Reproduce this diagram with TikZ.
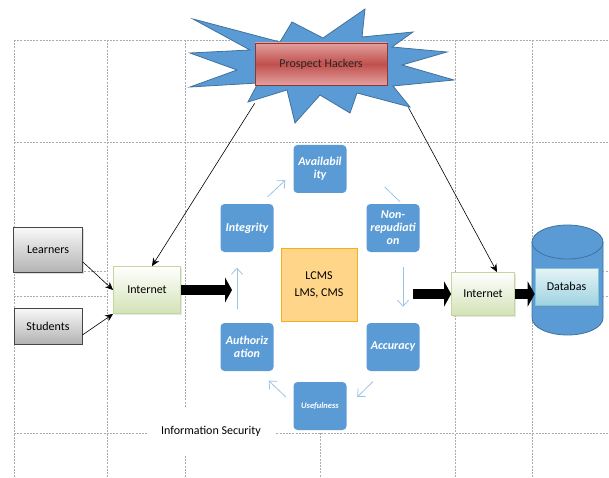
\documentclass[tikz,border=0pt]{standalone}
\usepackage{fontspec}
\setmainfont{Carlito}
\usetikzlibrary{arrows.meta,shadows}
\definecolor{starblue}{HTML}{5B9BD5}
\definecolor{starline}{HTML}{41719C}
\definecolor{hackred}{HTML}{C0504D}
\definecolor{hacklight}{HTML}{E3A09E}
\definecolor{hackline}{HTML}{8C3836}
\definecolor{netgreen}{HTML}{D3E2B6}
\definecolor{netline}{HTML}{C3D69B}
\definecolor{lcmsfill}{HTML}{FFD58A}
\definecolor{lcmsline}{HTML}{F2B01E}
\definecolor{cycblue}{HTML}{9DC3E6}
\definecolor{dbcyan}{HTML}{9ED3E0}
\definecolor{dbline}{HTML}{4BACC6}
\begin{document}
\begin{tikzpicture}[x=1pt, y=-1pt,
  grid/.style={gray!65, dash pattern=on 2pt off 1.2pt, line width=0.5pt},
  userbox/.style={draw=gray!55!black, line width=0.8pt, top color=gray!5, bottom color=gray!60,
    font=\fontsize{12}{14}\selectfont, drop shadow={opacity=0.25, shadow xshift=1pt, shadow yshift=-1pt}},
  netbox/.style={draw=netline, line width=0.8pt, top color=white, bottom color=netgreen,
    minimum height=45pt, font=\fontsize{12}{14}\selectfont,
    drop shadow={opacity=0.2, shadow xshift=1pt, shadow yshift=-1pt}},
  secbox/.style={fill=starblue, rounded corners=4pt, minimum width=53pt, minimum height=48pt,
    text=white, align=center, inner sep=1pt, font=\fontsize{12}{13}\selectfont\bfseries\itshape},
  cyc/.style={cycblue, line width=0.8pt, -{Straight Barb[length=6pt,width=11pt]}},
  feed/.style={black, line width=0.6pt, -{Stealth[length=8pt,width=7pt]}},
  blockarrow/.style={line width=10pt, -{Triangle[width=25pt,length=7pt]}}
  ]
  \useasboundingbox (0,0) rectangle (609,478);

  % grid
  \draw [grid] (14,40) -- (609,40);
  \draw [grid] (14,142) -- (609,142);
  \draw [grid] (14,271) -- (107,271);
  \draw [grid] (14,296) -- (107,296);
  \draw [grid] (532,271) -- (609,271);
  \draw [grid] (532,296) -- (609,296);
  \draw [grid] (14,433) -- (609,433);
  \draw [grid] (14,40) -- (14,478);
  \draw [grid] (107,40) -- (107,478);
  \draw [grid] (185,40) -- (185,478);
  \draw [grid] (320,433) -- (320,478);
  \draw [grid] (455,40) -- (455,478);
  \draw [grid] (532,40) -- (532,478);

  % information security label
  \node [fill=white, minimum width=128pt, minimum height=48pt, font=\fontsize{12}{14}\selectfont]
    (infosec) at (211,431) {Information Security};

  % hackers
  \draw [fill=starblue, draw=starline, line width=0.8pt]
    (193,19) -- (280,42) -- (292,22) -- (323,38) -- (365,9) -- (362,37) -- (413,32)
    -- (392,47) -- (447,52) -- (402,65) -- (454,80) -- (393,86) -- (410,107)
    -- (357,93) -- (350,113) -- (320,95) -- (295,123) -- (287,90) -- (248,102)
    -- (258,83) -- (190,87) -- (237,70) -- (190,53) -- (250,50) -- cycle;
  \node [draw=hackline, line width=0.8pt, top color=hacklight, bottom color=hacklight, middle color=hackred,
    minimum width=132pt, minimum height=42pt, text=black!85, font=\fontsize{12}{14}\selectfont,
    drop shadow={opacity=0.5, shadow xshift=0pt, shadow yshift=-1.5pt}]
    (hackers) at (321,64) {Prospect Hackers};

  % users and internet
  \node [userbox, minimum width=69pt, minimum height=45pt] (learners) at (48,250) {Learners};
  \node [userbox, minimum width=68pt, minimum height=36pt] (students) at (48,326) {Students};
  \node [netbox, minimum width=67pt, minimum height=47pt] (inetL) at (147,290) {Internet};
  \node [netbox, minimum width=63pt, minimum height=43pt] (inetR) at (483,294) {Internet};

  % security cycle
  \node [secbox] (avail) at (320,169) {Availabil\\ity};
  \node [secbox] (integ) at (247,228) {Integrity};
  \node [secbox] (nonrep) at (393,228) {Non-\\repudiati\\on};
  \node [secbox] (author) at (247,347) {Authoriz\\ation};
  \node [secbox] (accur) at (393,347) {Accuracy};
  \node [secbox, font=\fontsize{8.5}{10}\selectfont\bfseries\itshape] (useful) at (320,406) {Usefulness};
  \node [fill=lcmsfill, draw=lcmsline, line width=0.8pt, minimum width=76pt, minimum height=73pt,
    align=center, font=\fontsize{12}{17}\selectfont] (lcms) at (319,285) {LCMS\\LMS, CMS};

  \draw [cyc] ([xshift=-6pt,yshift=7pt]integ.north east) -- ([xshift=-8pt,yshift=13pt]avail.south west);
  \draw [cycblue, line width=0.8pt] ([xshift=38pt,yshift=-18pt]avail.east) -- ([xshift=7pt,yshift=2pt]nonrep.north);
  \draw [cyc] ([xshift=10pt,yshift=-15pt]nonrep.south) -- ([xshift=10pt,yshift=16pt]accur.north);
  \draw [cyc] ([xshift=6.5pt,yshift=-10.5pt]accur.south west) -- ([xshift=10.5pt,yshift=9pt]useful.east);
  \draw [cyc] ([xshift=-7.5pt,yshift=9pt]useful.west) -- ([xshift=-5pt,yshift=-9.5pt]author.south east);
  \draw [cyc] ([xshift=-10pt,yshift=13.5pt]author.north) -- ([xshift=-10pt,yshift=-15.5pt]integ.south);

  % database
  \draw [fill=starblue, draw=starline, line width=0.8pt]
    (532,242) -- (532,318) arc [start angle=180, end angle=360, x radius=35.5pt, y radius=17pt]
    -- (603,242) arc [start angle=0, end angle=180, x radius=35.5pt, y radius=17pt] -- cycle;
  \draw [starline, line width=0.8pt] (532,242) arc [start angle=180, end angle=360, x radius=35.5pt, y radius=17pt];
  \node [draw=dbline!70, line width=0.6pt, top color=dbcyan!25, bottom color=dbcyan,
    minimum width=63pt, minimum height=37pt, font=\fontsize{12}{14}\selectfont,
    drop shadow={opacity=0.35, shadow xshift=0pt, shadow yshift=-1.5pt}] (dbbox) at (566.5,286.5) {Databas};

  % connections
  \coordinate (blockL) at (232,290);
  \coordinate (blockR) at (413,294);
  \draw [feed] ([yshift=-18pt]hackers.south west) -- ([xshift=5pt]inetL.north);
  \draw [feed] ([xshift=21pt,yshift=-22pt]hackers.south east) -- ([xshift=14pt]inetR.north);
  \draw [feed] ([yshift=-12pt]learners.east) -- (inetL.west);
  \draw [feed] ([yshift=-9pt]students.east) -- (inetL.south west);
  \draw [blockarrow] (inetL.east) -- (blockL);
  \draw [blockarrow] (blockR) -- (inetR.west);
  \draw [blockarrow] (inetR.east) -- (inetR.east -| dbbox.west);

\end{tikzpicture}
\end{document}
